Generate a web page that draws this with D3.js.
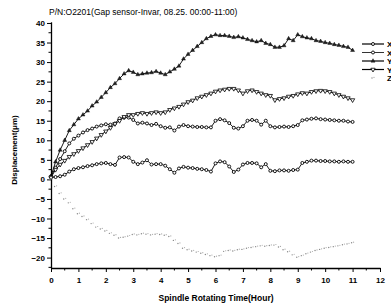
<!DOCTYPE html>
<html>
<head>
<meta charset="utf-8">
<script src="https://cdn.jsdelivr.net/npm/d3@7"></script>
<style>
    body { margin: 0; background: #fff; }
    svg { display: block; font-family: "Liberation Sans", Arial, sans-serif; }
    .tick text { font-weight: bold; font-size: 8px; }
</style>
</head>
<body>
<main></main>
<script>
const width = 391;
const height = 307;

// time in 10 minute steps (hours)
const steps = d3.range(0, 67);
const hours = steps.map((s) => s / 6);

const seriesNames = ["X1", "X2", "Y1", "Y2", "Z"];

const x1Values = [0.8, 3, 5.2, 7.2, 9.2, 10.4, 11.2, 12, 12.6, 13, 13.5, 13.8, 14.1, 14, 14.3, 15.6, 15.8, 15.8, 15.2, 14.3,
    14.5, 14.3, 13.9, 14.2, 13.6, 13.2, 13.3, 12.5, 13.5, 13.9, 13.6, 13.5, 13.4, 13.4, 13.3, 13.3, 15, 15.4, 15.1, 14.4,
    13.2, 13, 13.6, 15, 15.2, 15, 14, 15, 13.6, 13.3, 13.4, 13.5, 13.4, 13.6, 13.9, 15.1, 15.3, 15.5, 15.6, 15.4,
    15.3, 15.2, 15.1, 15, 15, 14.8, 14.7];
const x2Values = [0.5, 0.6, 0.8, 1.2, 2, 2.6, 2.9, 3.1, 3.4, 3.6, 3.9, 4.1, 4.2, 3.9, 3.7, 5.6, 5.7, 5.6, 4.5, 3.9,
    4.3, 4.9, 3.8, 3.9, 3.9, 3.5, 2.6, 1.7, 2.8, 3.2, 3, 2.9, 2.7, 2.6, 2.4, 2, 4.1, 4.6, 4.4, 3.3,
    1.9, 2.5, 3.8, 4.2, 4.2, 4.1, 3.1, 3.9, 2.2, 2.1, 2.3, 2.3, 2.2, 2.4, 2.5, 4.2, 4.5, 4.8, 4.8, 4.7,
    4.7, 4.6, 4.6, 4.5, 4.6, 4.5, 4.5];
const y1Values = [0.8, 4.5, 7.5, 10, 12.5, 14, 15.5, 16.5, 17.5, 18.8, 19.8, 21, 22.2, 23.5, 24.5, 25.8, 27, 27.8, 27.4, 26.8,
    27, 27.2, 27.3, 27.6, 27.2, 26.8, 27.5, 28.2, 29, 30.8, 32, 33, 34, 35, 36, 36.6, 37, 36.8, 36.8, 36.6,
    36.3, 36.5, 36.2, 35.8, 35.5, 35.2, 35.5, 34.8, 34.5, 33.8, 33.8, 34.2, 36, 35.5, 37, 36.5, 36.2, 36, 35.5, 35.3,
    35, 34.8, 34.5, 34.3, 34, 33.8, 33];
const y2Values = [0.5, 2.5, 3.8, 4.8, 5.8, 6.5, 7.3, 8, 8.8, 9.6, 10.5, 11.4, 12.3, 13.2, 14.2, 15, 16, 16.5, 16.5, 16.8,
    17, 16.8, 17, 17.2, 17, 17.2, 17.8, 18.2, 18.6, 19.2, 19.8, 20.2, 20.8, 21.2, 21.6, 22, 22.5, 22.8, 23, 23.2,
    23.2, 22.8, 22, 22.6, 22.8, 22.4, 22, 21.6, 21.4, 20.3, 20.6, 20.8, 21.2, 21.4, 21.8, 22.1, 22, 22.4, 22.6, 22.7,
    22.6, 22.4, 22, 21.6, 21.2, 20.8, 20.3];
const zValues = [0, -1.8, -3.6, -5, -6, -7.5, -8.8, -9.5, -10.3, -11.3, -12.2, -12.7, -13.2, -13.8, -14.3, -15, -14.8, -14.5, -14.1, -14.2,
    -13.9, -14, -14.2, -14, -14.1, -14.3, -14.6, -15.6, -16.4, -17.6, -18, -18.3, -18.6, -18.9, -19.2, -19.5, -19.8, -19.5, -18.4, -18.2,
    -18.3, -18, -17.9, -17.6, -17.4, -17.2, -17, -17.1, -16.9, -16.8, -17.3, -18, -18.5, -19.3, -19.9, -19.5, -19, -18.6, -18.2, -17.9,
    -17.6, -17.4, -17.2, -17, -16.7, -16.5, -16.2];

const xTicks = d3.range(0, 13);
const yTicks = d3.range(-20, 41, 5);

const createCanvas = () => {
    return d3.select("main")
             .append("svg")
             .attr("width", width)
             .attr("height", height);
};

const calculateScales = () => {
    const xScale = d3.scaleLinear()
                     .domain([0, 12])
                     .range([51, 380]);
    const yScale = d3.scaleLinear()
                     .domain([-22.66, 40.3])
                     .range([268, 21.8]);
    return {xScale, yScale};
};

const createAxes = (scales, svg) => {
    const xAxis = svg.append("g")
       .attr("transform", "translate(0, 268)")
       .call(d3.axisBottom(scales.xScale).tickValues(xTicks).tickSize(4).tickSizeOuter(0).tickFormat(d3.format("d")));
    xAxis.selectAll("text").attr("dy", "0.95em");
    // minor ticks
    xAxis.selectAll(".minor")
       .data(d3.range(0.5, 12, 1))
       .enter()
       .append("line")
       .attr("class", "minor")
       .attr("x1", (d) => scales.xScale(d))
       .attr("x2", (d) => scales.xScale(d))
       .attr("y2", 2.5)
       .attr("stroke", "#000");

    const yAxis = svg.append("g")
       .attr("transform", "translate(51, 0)")
       .call(d3.axisLeft(scales.yScale).tickValues(yTicks).tickSize(4).tickSizeOuter(0));
    yAxis.selectAll("text").attr("x", -6);
    yAxis.selectAll(".minor")
       .data(d3.range(-22.5, 40, 5))
       .enter()
       .append("line")
       .attr("class", "minor")
       .attr("y1", (d) => scales.yScale(d))
       .attr("y2", (d) => scales.yScale(d))
       .attr("x2", -2.5)
       .attr("stroke", "#000");

    svg.selectAll(".domain").attr("stroke-width", 1.3);

    svg.append("text")
       .attr("x", 216)
       .attr("y", 301)
       .attr("text-anchor", "middle")
       .style("font-size", "8.5px")
       .style("font-weight", "bold")
       .text("Spindle Rotating Time(Hour)");

    svg.append("text")
       .attr("transform", "translate(17, 150) rotate(-90)")
       .attr("text-anchor", "middle")
       .style("font-size", "8px")
       .style("font-weight", "bold")
       .text("Displacement(μm)");

    svg.append("text")
       .attr("x", 49)
       .attr("y", 15)
       .style("font-size", "8.5px")
       .text("P/N:O2201(Gap sensor-Invar, 08.25. 00:00-11:00)");
};

const drawMarker = (g, type, x, y) => {
    if (type === "circle") {
        g.append("circle").attr("cx", x).attr("cy", y).attr("r", 1.5)
         .attr("fill", "#fff").attr("stroke", "#000").attr("stroke-width", 0.9);
    } else if (type === "up") {
        g.append("path").attr("d", d3.symbol(d3.symbolTriangle, 7)()).attr("transform", `translate(${x},${y})`)
         .attr("fill", "#222").attr("stroke", "#000").attr("stroke-width", 0.4);
    } else if (type === "down") {
        g.append("path").attr("d", d3.symbol(d3.symbolTriangle, 8)()).attr("transform", `translate(${x},${y}) rotate(180)`)
         .attr("fill", "#fff").attr("stroke", "#000").attr("stroke-width", 0.8);
    } else {
        g.append("circle").attr("cx", x - 1).attr("cy", y).attr("r", 0.7).attr("fill", "#888");
        g.append("circle").attr("cx", x + 1).attr("cy", y - 0.6).attr("r", 0.6).attr("fill", "#aaa");
    }
};

const createSeries = (scales, svg) => {
    const series = [
        {values: x1Values, marker: "circle", line: true},
        {values: x2Values, marker: "circle", line: true},
        {values: y1Values, marker: "up", line: true},
        {values: y2Values, marker: "down", line: true},
        {values: zValues, marker: "dot", line: false}
    ];
    const line = d3.line()
                   .x((d, i) => scales.xScale(hours[i]))
                   .y((d) => scales.yScale(d));
    series.forEach((s) => {
        const g = svg.append("g");
        if (s.line) {
            g.append("path")
             .attr("d", line(s.values))
             .attr("fill", "none")
             .attr("stroke", "#000")
             .attr("stroke-width", 0.9);
        }
        s.values.forEach((v, i) => drawMarker(g, s.marker, scales.xScale(hours[i]), scales.yScale(v)));
    });
    return series;
};

const createLegend = (series, svg) => {
    const rows = [44, 52.5, 61, 69.5, 78];
    series.forEach((s, i) => {
        const g = svg.append("g");
        if (s.line) {
            g.append("line").attr("x1", 362).attr("x2", 384).attr("y1", rows[i]).attr("y2", rows[i])
             .attr("stroke", "#000").attr("stroke-width", i === 1 ? 0.8 : 1.2);
        }
        drawMarker(g, s.marker, 373, rows[i]);
        g.append("text")
         .attr("x", 387)
         .attr("y", rows[i] + 3)
         .style("font-size", "8px")
         .style("font-weight", "bold")
         .text(seriesNames[i]);
    });
};

const driver = () => {
    const svg = createCanvas();
    const scales = calculateScales();
    createAxes(scales, svg);
    const series = createSeries(scales, svg);
    createLegend(series, svg);
};

driver();
</script>
</body>
</html>
